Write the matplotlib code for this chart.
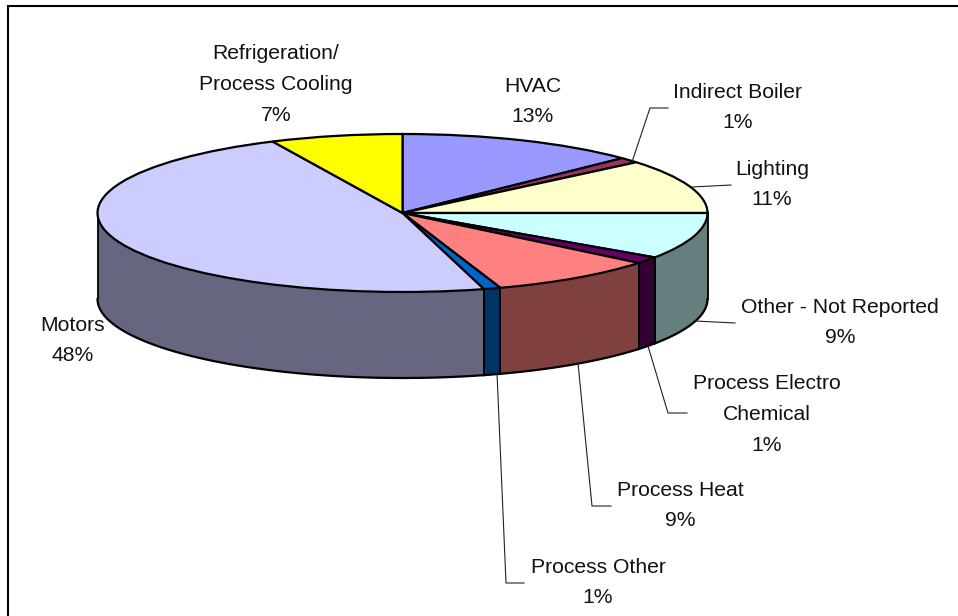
import numpy as np
import matplotlib
matplotlib.use("Agg")
import matplotlib.pyplot as plt

plt.rcParams['font.family'] = ['Liberation Sans', 'DejaVu Sans']

categories = ["HVAC", "Indirect Boiler", "Lighting", "Other - Not Reported",
              "Process Electro\nChemical", "Process Heat", "Process Other",
              "Motors", "Refrigeration/\nProcess Cooling"]
shares = [12.8, 1.1, 11.1, 9.5, 1.4, 8.9, 0.9, 47.3, 7.0]
pct_labels = ["13%", "1%", "11%", "9%", "1%", "9%", "1%", "48%", "7%"]
colors = ["#9999FF", "#993366", "#FFFFCC", "#CCFFFF", "#660066",
          "#FF8080", "#0066CC", "#CCCCFF", "#FFFF00"]
side_colors = ["#4D4D80", "#4D1A33", "#808066", "#668080", "#330033",
               "#804040", "#003366", "#666680", "#808000"]

W, H = 958, 616
cx, cy, rx, ry = 402.5, 213, 305, 79
depth = 86 / ry

fig = plt.figure(figsize=(W / 100, H / 100), dpi=100)
ax = fig.add_axes([0, 0, 1, 1])

ax.pie(shares, colors=colors, startangle=90, counterclock=False, radius=1,
       wedgeprops=dict(edgecolor="black", linewidth=1.6, zorder=5))
ax.set_aspect("auto")
ax.set_xlim(-cx / rx, (W - cx) / rx)
ax.set_ylim(-(H - cy) / ry, cy / ry)

# side wall, only the front half of the rim shows
edges = 2 * np.pi * np.cumsum([0] + shares) / sum(shares)
for i in range(len(shares)):
    a0 = max(edges[i], np.pi / 2)
    a1 = min(edges[i + 1], 3 * np.pi / 2)
    if a1 <= a0:
        continue
    t = np.linspace(a0, a1, 60)
    x = np.sin(t)
    y = np.cos(t)
    ax.fill_between(x, y - depth, y, color=side_colors[i], lw=0, zorder=2)
    ax.plot(x, y - depth, color="black", lw=1.6, zorder=3)
    ax.plot([x[0], x[0]], [y[0], y[0] - depth], color="black", lw=1.3, zorder=3)
    ax.plot([x[-1], x[-1]], [y[-1], y[-1] - depth], color="black", lw=1.3, zorder=3)

# overlay in pixel coords for frame, labels and leader lines
ov = fig.add_axes([0, 0, 1, 1], facecolor="none")
ov.set_xlim(0, W)
ov.set_ylim(H, 0)
ov.axis("off")

# only top and left edges of the chart border are in the picture
ov.plot([8, 8, W], [H, 6, 6], color="black", lw=1.5, clip_on=False,
        solid_joinstyle="miter")

label_pos = [(533, 101.5), (738, 107.5), (772, 184.5), (840, 322.5), (767, 414.5),
             (680, 505.5), (598, 582.5), (73, 340.5), (276, 84.5)]
for name, pct, (tx, ty) in zip(categories, pct_labels, label_pos):
    ov.text(tx, ty, name + "\n" + pct, ha="center", va="center", fontsize=15.2,
            linespacing=1.77, color="#111111")

leaders = [
    [(632, 162), (650, 108), (668, 108)],
    [(692, 187), (731, 185)],
    [(695, 321), (735, 323)],
    [(648, 346), (668, 413), (687, 413)],
    [(578, 363), (592, 506), (611, 506)],
    [(497, 373), (506, 583), (524, 583)],
]
for line in leaders:
    xs, ys = zip(*line)
    ov.plot(xs, ys, color="#222222", lw=0.8, zorder=1)

fig.savefig("out.png", dpi=100)
